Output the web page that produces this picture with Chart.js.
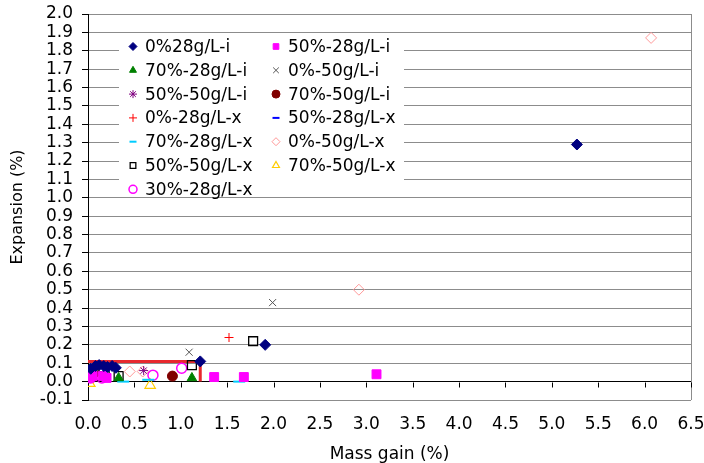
<!DOCTYPE html>
<html>
<head>
<meta charset="utf-8">
<script src="https://cdn.jsdelivr.net/npm/chart.js@4/dist/chart.umd.min.js"></script>
<style>
  html, body { margin: 0; padding: 0; background: #fff; }
  #wrap { width: 704px; height: 463px; position: relative; }
</style>
</head>
<body>
<div id="wrap"><canvas id="chart"></canvas></div>
<script>
// Series names (legend order)
const seriesLabels = [
  '0%28g/L-i', '50%-28g/L-i', '70%-28g/L-i', '0%-50g/L-i', '50%-50g/L-i', '70%-50g/L-i',
  '0%-28g/L-x', '50%-28g/L-x', '70%-28g/L-x', '0%-50g/L-x', '50%-50g/L-x', '70%-50g/L-x',
  '30%-28g/L-x'
];

// Mass gain (%) / Expansion (%) per series
const mass_0_28_i = [0.03, 0.08, 0.12, 0.17, 0.21, 0.26, 0.30, 1.21, 1.91, 5.27];
const exp_0_28_i  = [0.07, 0.085, 0.09, 0.085, 0.08, 0.085, 0.075, 0.11, 0.20, 1.29];
const mass_50_28_i = [0.01, 0.05, 0.16, 0.20, 1.36, 1.68, 3.11];
const exp_50_28_i  = [0.02, 0.03, 0.03, 0.02, 0.025, 0.025, 0.04];
const mass_70_28_i = [0.33, 1.12];
const exp_70_28_i  = [0.02, 0.02];
const mass_0_50_i = [0.10, 1.09, 1.99];
const exp_0_50_i  = [0.06, 0.16, 0.43];
const mass_50_50_i = [0.05, 0.60];
const exp_50_50_i  = [0.04, 0.06];
const mass_70_50_i = [0.02, 0.07, 0.91];
const exp_70_50_i  = [0.045, 0.05, 0.03];
const mass_0_28_x = [0.03, 1.52];
const exp_0_28_x  = [0.04, 0.24];
const mass_50_28_x = [0.10, 0.20];
const exp_50_28_x  = [0.07, 0.06];
const mass_70_28_x = [0.38, 0.65, 1.63];
const exp_70_28_x  = [0.0, 0.01, 0.0];
const mass_0_50_x = [0.45, 0.59, 2.92, 6.07];
const exp_0_50_x  = [0.055, 0.055, 0.50, 1.87];
const mass_50_50_x = [0.10, 0.18, 0.33, 1.12, 1.78];
const exp_50_50_x  = [0.03, 0.03, 0.03, 0.09, 0.22];
const mass_70_50_x = [0.02, 0.67];
const exp_70_50_x  = [-0.01, -0.02];
const mass_30_28_x = [0.03, 0.15, 0.70, 1.01];
const exp_30_28_x  = [0.02, 0.02, 0.035, 0.073];

// red limit outline
const limitMass = [0, 1.21, 1.21];
const limitExp  = [0.11, 0.11, 0.0];

// axis ranges
const yMin = -0.1, yMax = 2.0, yStep = 0.1;
const xMin = 0, xMax = 6.5, xStep = 0.5;

const seriesData = [
  [mass_0_28_i, exp_0_28_i], [mass_50_28_i, exp_50_28_i], [mass_70_28_i, exp_70_28_i],
  [mass_0_50_i, exp_0_50_i], [mass_50_50_i, exp_50_50_i], [mass_70_50_i, exp_70_50_i],
  [mass_0_28_x, exp_0_28_x], [mass_50_28_x, exp_50_28_x], [mass_70_28_x, exp_70_28_x],
  [mass_0_50_x, exp_0_50_x], [mass_50_50_x, exp_50_50_x], [mass_70_50_x, exp_70_50_x],
  [mass_30_28_x, exp_30_28_x]
];

// marker look per series
const markerStyles = [
  { pointStyle: 'rectRot',  radius: 5.5, bg: '#000080', border: '#000080', bw: 1 },
  { pointStyle: 'rect',     radius: 6.3, bg: '#FF00FF', border: '#FF00FF', bw: 1 },
  { pointStyle: 'triangle', radius: 5.5, bg: '#008000', border: '#008000', bw: 1 },
  { pointStyle: 'crossRot', radius: 5,   bg: '#555555', border: '#555555', bw: 1 },
  { pointStyle: 'star',     radius: 4.5, bg: '#800080', border: '#800080', bw: 1 },
  { pointStyle: 'circle',   radius: 5,   bg: '#800000', border: '#800000', bw: 1 },
  { pointStyle: 'cross',    radius: 4.5, bg: '#FF0000', border: '#FF0000', bw: 1 },
  { pointStyle: 'line',     radius: 3,   bg: '#0000FF', border: '#0000FF', bw: 2 },
  { pointStyle: 'line',     radius: 6,   bg: '#00CCFF', border: '#00CCFF', bw: 2 },
  { pointStyle: 'rectRot',  radius: 5.5, bg: 'rgba(0,0,0,0)', border: '#FF9999', bw: 1 },
  { pointStyle: 'rect',     radius: 6.3, bg: 'rgba(0,0,0,0)', border: '#000000', bw: 1.3 },
  { pointStyle: 'triangle', radius: 6,   bg: 'rgba(0,0,0,0)', border: '#FFCC00', bw: 1.2 },
  { pointStyle: 'circle',   radius: 5,   bg: 'rgba(0,0,0,0)', border: '#FF00FF', bw: 1.5 }
];

const datasets = seriesLabels.map((label, i) => {
  const [xs, ys] = seriesData[i];
  const m = markerStyles[i];
  return {
    label,
    data: xs.map((x, k) => ({ x, y: ys[k] })),
    showLine: false,
    pointStyle: m.pointStyle,
    pointRadius: m.radius,
    backgroundColor: m.bg,
    borderColor: m.border,
    pointBorderWidth: m.bw,
    order: 0,
  };
});

datasets.push({
  label: 'limit',
  data: limitMass.map((x, k) => ({ x, y: limitExp[k] })),
  showLine: true,
  borderColor: '#E8282E',
  borderWidth: 3,
  pointRadius: 0,
  fill: false,
  order: 1,
});

const FONT = 'DejaVu Sans';

// short tick marks on the zero line (Excel axis crossing at 0)
const zeroAxisPlugin = {
  id: 'zeroAxis',
  beforeDatasetsDraw(chart) {
    const { ctx, scales: { x, y } } = chart;
    const y0 = Math.round(y.getPixelForValue(0)) + 0.5;
    ctx.save();
    ctx.strokeStyle = '#000';
    ctx.lineWidth = 1;
    ctx.beginPath();
    x.ticks.forEach(t => {
      if (t.value === xMin) return;
      const px = Math.round(x.getPixelForValue(t.value)) + 0.5;
      ctx.moveTo(px, y0);
      ctx.lineTo(px, y0 + 5);
    });
    ctx.stroke();
    ctx.restore();
  }
};

// legend inside the plot, two columns on a white box
const innerLegendPlugin = {
  id: 'innerLegend',
  afterDatasetsDraw(chart) {
    const { ctx, chartArea } = chart;
    const left = chartArea.left, top = chartArea.top;
    ctx.save();
    ctx.fillStyle = '#fff';
    ctx.fillRect(left + 31, top + 19, 285, 161);

    ctx.font = `17px "${FONT}"`;
    ctx.textBaseline = 'middle';
    ctx.textAlign = 'left';
    const rowH = 23.8;
    seriesLabels.forEach((label, i) => {
      const col = i % 2, row = Math.floor(i / 2);
      const mx = left + 45 + col * 143;
      const my = top + 32.5 + row * rowH;
      const m = markerStyles[i];
      ctx.fillStyle = m.bg;
      ctx.strokeStyle = m.border;
      ctx.lineWidth = m.bw;
      Chart.helpers.drawPoint(ctx, {
        pointStyle: m.pointStyle,
        radius: m.pointStyle === 'line' ? 3.5 : 4,
        rotation: 0,
        borderWidth: m.bw,
      }, mx, my);
      ctx.fillStyle = '#000';
      ctx.fillText(label, mx + 12, my + 1);
    });
    ctx.restore();
  }
};

new Chart(document.getElementById('chart'), {
  type: 'scatter',
  data: { datasets },
  options: {
    responsive: true,
    maintainAspectRatio: false,
    animation: false,
    layout: { padding: { left: 0, right: 13, top: 14, bottom: 0 } },
    plugins: {
      legend: { display: false },
      tooltip: { enabled: false },
    },
    scales: {
      x: {
        type: 'linear',
        min: xMin, max: xMax,
        afterFit: (s) => { s.height = 63; s.paddingLeft = 0; s.paddingRight = 0; },
        ticks: {
          stepSize: xStep,
          autoSkip: false,
          maxRotation: 0,
          padding: 14,
          color: '#000',
          font: { family: FONT, size: 17 },
          callback: v => v.toFixed(1),
        },
        grid: {
          drawTicks: false,
          color: c => (c.tick && c.tick.value === xMax ? '#8c8c8c' : 'rgba(0,0,0,0)'),
        },
        border: { display: false },
        title: {
          display: true,
          text: 'Mass gain (%)',
          color: '#000',
          font: { family: FONT, size: 17, lineHeight: 1.0 },
          padding: { top: 0, bottom: 0 },
        },
      },
      y: {
        type: 'linear',
        min: yMin, max: yMax,
        afterFit: (s) => { s.width = 88; s.paddingTop = 0; s.paddingBottom = 0; },
        ticks: {
          stepSize: yStep,
          autoSkip: false,
          padding: 9,
          color: '#000',
          font: { family: FONT, size: 17 },
          callback: v => v.toFixed(1),
        },
        grid: {
          drawTicks: true,
          tickLength: 6,
          tickColor: '#000',
          color: c => (c.tick && Math.abs(c.tick.value) < 1e-9 ? '#000' : '#8c8c8c'),
        },
        border: { display: true, color: '#000', width: 1 },
        title: {
          display: true,
          text: 'Expansion (%)',
          color: '#000',
          font: { family: FONT, size: 16 },
          padding: { top: 8, bottom: 0 },
        },
      },
    },
  },
  plugins: [zeroAxisPlugin, innerLegendPlugin],
});
</script>
</body>
</html>
